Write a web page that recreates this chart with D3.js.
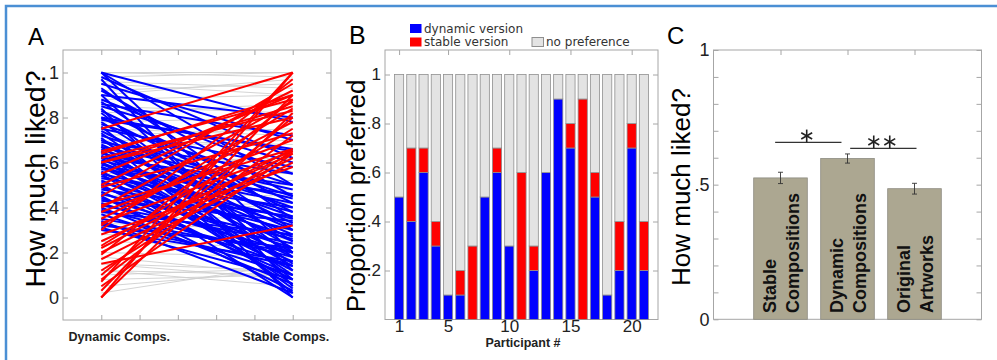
<!DOCTYPE html>
<html>
<head>
<meta charset="utf-8">
<script src="https://cdn.jsdelivr.net/npm/d3@7"></script>
<style>
  body { margin: 0; background: #fff; }
  text { font-family: "Liberation Sans", Arial, sans-serif; }
</style>
</head>
<body>
<svg id="chart" width="997" height="360"></svg>
<script>
// ---- panel A: liking ratings, [dynamic, stable] per composition pair
var grayPairs = [[1,1],[1,0.98],[0.98,1],[0.96,0.93],[0.92,0.95],[0.88,0.9],[0.85,0.82],[0.82,0.86],
  [0.78,0.8],[0.75,0.72],[0.72,0.75],[0.7,0.68],[0.66,0.7],[0.63,0.6],[0.6,0.62],[0.57,0.55],
  [0.55,0.58],[0.52,0.5],[0.5,0.52],[0.47,0.45],[0.45,0.48],[0.42,0.4],[0.4,0.42],[0.36,0.35],
  [0.33,0.3],[0.28,0.26],[0.25,0.22],[0.2,0.18],[0.15,0.12],[0.12,0.1],[0.1,0.13],[0.08,0.1],
  [0.05,0.12],[0.02,0.15],[0.12,0.05],[0.15,0.08],[0.18,0.1],[0.9,0.97],[0.95,0.9],[0.62,0.56]];
var bluePairs = [[1,0.78],[1,0.5],[1,0.2],[0.98,0.62],[0.97,0.05],[0.95,0.7],[0.93,0.35],[0.92,0.45],
  [0.9,0.8],[0.9,0.12],[0.88,0.55],[0.87,0.3],[0.85,0.6],[0.84,0],[0.83,0.42],[0.82,0.18],
  [0.8,0.65],[0.8,0.38],[0.78,0.25],[0.77,0.5],[0.76,0.08],[0.75,0.58],[0.74,0.33],[0.73,0.15],
  [0.72,0.45],[0.71,0.02],[0.7,0.4],[0.7,0.22],[0.69,0.55],[0.68,0.3],[0.67,0.1],[0.67,0.48],
  [0.66,0.36],[0.65,0.2],[0.65,0.04],[0.64,0.44],[0.63,0.28],[0.62,0.5],[0.62,0.14],[0.61,0.38],
  [0.6,0.25],[0.6,0.06],[0.59,0.42],[0.58,0.32],[0.58,0.18],[0.57,0.46],[0.56,0.12],[0.55,0.35],
  [0.55,0],[0.54,0.27],[0.53,0.4],[0.52,0.16],[0.51,0.3],[0.5,0.08],[0.49,0.22],[0.48,0.36],
  [0.47,0.1],[0.46,0.26],[0.45,0.03],[0.44,0.2],[0.43,0.34],[0.42,0.14],[0.41,0.24],[0.4,0.06],
  [0.39,0.18],[0.38,0.28],[0.37,0.1],[0.35,0.2],[0.34,0.02],[0.33,0.14],[0.32,0.22],[0.31,0.08],
  [0.3,0.16],[0.86,0.72],[0.79,0.66]];
var redPairs = [[0.75,1],[0.65,0.88],[0.64,0.9],[0.62,0.83],[0.6,0.85],[0.6,0.8],[0.5,0.92],[0.49,0.73],
  [0.4,0.87],[0.38,0.7],[0.35,0.78],[0.33,0.65],[0.3,0.97],[0.25,0.64],[0.23,0.75],[0.22,0.66],
  [0.2,0.62],[0.19,0.88],[0.17,0.6],[0.15,0.32],[0.12,0.65],[0.1,0.8],[0.08,0.72],[0.07,1],
  [0.05,0.64],[0.03,0.9],[0,1],[0,0.82],[0.45,0.95],[0.28,0.58],[0.41,0.66],[0.55,0.9],[0.32,0.84]];
var conditionsA = ["Dynamic Comps.", "Stable Comps."];

// ---- panel B: proportion preferred per participant
var participants = [1,2,3,4,5,6,7,8,9,10,11,12,13,14,15,16,17,18,19,20,21];
var propDynamic = [0.5,0.4,0.6,0.3,0.1,0.1,0,0.5,0.6,0.3,0,0.2,0.6,0.9,0.7,0,0.5,0.1,0.2,0.7,0.2];
var propStable  = [0,0.3,0.1,0.1,0,0.1,0.3,0,0.1,0,0.6,0.1,0,0,0.1,0.9,0.1,0,0.2,0.1,0.2];
var legendB = [["dynamic version","#0000ff"],["stable version","#ff0000"],["no preference","#e3e3e3"]];

// ---- panel C: mean liking per stimulus type
var groupsC = [["Stable","Compositions"],["Dynamic","Compositions"],["Original","Artworks"]];
var meansC = [0.525, 0.597, 0.485];
var semC = [0.021, 0.017, 0.02];
var sigC = [[1,2,0.657,"*"],[2,3,0.635,"**"]];

var svg = d3.select("#chart");
var axisGray = "#a6a6a6";

// outer frame (left + top edges visible)
svg.append("path").attr("d","M6,360V6H997").attr("fill","none")
  .attr("stroke","#4b8fd4").attr("stroke-width",2.5);

function decimal(d) {
  if (d === 0) return "0";
  if (d === 1) return "1";
  return d3.format(".1f")(d).replace(/^0/, "");
}

function boxAxes(g, x, y, xt, yt, yFmt, xFmt, fs) {
  var xr = x.range(), yr = y.range();
  g.append("rect").attr("x",xr[0]).attr("y",yr[1]).attr("width",xr[1]-xr[0]).attr("height",yr[0]-yr[1])
    .attr("fill","none").attr("stroke",axisGray);
  var parts = [
    g.append("g").attr("transform","translate("+xr[0]+",0)")
      .call(d3.axisLeft(y).tickValues(yt).tickSize(-5).tickPadding(4).tickFormat(yFmt)),
    g.append("g").attr("transform","translate("+xr[1]+",0)")
      .call(d3.axisRight(y).tickValues(yt).tickSize(-5).tickFormat("")),
    g.append("g").attr("transform","translate(0,"+yr[1]+")")
      .call(d3.axisTop(x).tickValues(xt).tickSize(-5).tickFormat("")),
    g.append("g").attr("transform","translate(0,"+yr[0]+")")
      .call(d3.axisBottom(x).tickValues(xt).tickSize(-5).tickPadding(0.5).tickFormat(xFmt || ""))
  ];
  parts.forEach(function(p) {
    p.select(".domain").remove();
    p.selectAll(".tick line").attr("stroke",axisGray);
    p.selectAll("text").attr("fill","#222").style("font-size",fs+"px")
      .style("font-family",'"Liberation Sans", Arial, sans-serif');
  });
}

// ================= A
var gA = svg.append("g");
var ax = d3.scaleLinear().domain([0.8,2.2]).range([63,331]);
var ay = d3.scaleLinear().domain([-0.1,1.1]).range([320,50]);

boxAxes(gA, ax, ay, [1,1.2,1.4,1.6,1.8,2], [0,0.2,0.4,0.6,0.8,1], decimal, null, 18);

function pairLines(data, color, w) {
  gA.append("g").selectAll("line").data(data).join("line")
    .attr("x1",ax(1)).attr("x2",ax(2))
    .attr("y1",function(d){return ay(d[0]);}).attr("y2",function(d){return ay(d[1]);})
    .attr("stroke",color).attr("stroke-width",w);
}
pairLines(grayPairs, "#cfcfcf", 0.9);
pairLines(bluePairs, "#0000ff", 2);
pairLines(redPairs, "#ff0000", 2);

gA.selectAll("text.cond").data(conditionsA).join("text").attr("class","cond")
  .attr("x",function(d,i){return ax(i+1) + (i === 0 ? 18 : -7);})
  .attr("y",341).attr("text-anchor","middle")
  .style("font-size","12.5px").style("font-weight","bold").attr("fill","#222")
  .text(function(d){return d;});

gA.append("text").attr("transform","translate(45,179) rotate(-90)").attr("text-anchor","middle")
  .style("font-size","28.5px").text("How much liked?");
gA.append("text").attr("x",28).attr("y",45).style("font-size","24px").text("A");

// ================= B
var gB = svg.append("g");
var bx = d3.scaleLinear().domain([-0.15,22.15]).range([385,658]);
var by = d3.scaleLinear().domain([0,1.1]).range([319.5,50]);

boxAxes(gB, bx, by, [1,5,10,15,20], [0.2,0.4,0.6,0.8,1], decimal, function(d){return d;}, 17);

var bw = bx(0.75) - bx(0);
var stacks = participants.map(function(p,i){
  var d = propDynamic[i], s = propStable[i];
  return [[p,0,d,"#0000ff"],[p,d,d+s,"#ff0000"],[p,d+s,1,"#e3e3e3"]];
});
gB.append("g").selectAll("g").data(stacks).join("g")
  .selectAll("rect").data(function(d){return d.filter(function(s){return s[2] > s[1];});}).join("rect")
  .attr("x",function(s){return bx(s[0]) - bw/2;}).attr("width",bw)
  .attr("y",function(s){return by(s[2]);}).attr("height",function(s){return by(s[1]) - by(s[2]);})
  .attr("fill",function(s){return s[3];}).attr("stroke","#8f8f8f").attr("stroke-width",0.8);

var legPos = [[410,24],[410,37.5],[532,37.5]];
var leg = gB.selectAll("g.leg").data(legendB).join("g").attr("class","leg")
  .attr("transform",function(d,i){return "translate("+legPos[i][0]+","+legPos[i][1]+")";});
leg.append("rect").attr("width",11.5).attr("height",9)
  .attr("fill",function(d){return d[1];}).attr("stroke",function(d,i){return i===2?"#8f8f8f":"none";});
leg.append("text").attr("x",14).attr("y",8.5).text(function(d){return d[0];})
  .style("font-family","'DejaVu Sans', sans-serif")
  .style("font-size","12px").attr("fill","#333");

gB.append("text").attr("x",523).attr("y",347).attr("text-anchor","middle")
  .style("font-size","12.5px").style("font-weight","bold").attr("fill","#222").text("Participant #");
gB.append("text").attr("transform","translate(365,196) rotate(-90)").attr("text-anchor","middle")
  .style("font-size","26px").text("Proportion preferred");
gB.append("text").attr("x",349).attr("y",43.5).style("font-size","25px").text("B");

// ================= C
var gC = svg.append("g");
var cx = d3.scaleLinear().domain([0,4]).range([713.5,981.5]);
var cy = d3.scaleLinear().domain([0,1]).range([319.3,50]);

boxAxes(gC, cx, cy, [1,2,3], [0,0.1,0.2,0.3,0.4,0.5,0.6,0.7,0.8,0.9,1],
  function(d){ return d === 0 ? "0" : d === 0.5 ? ".5" : d === 1 ? "1" : ""; }, null, 18);

var cw = cx(0.8) - cx(0);
gC.append("g").selectAll("rect").data(meansC).join("rect")
  .attr("x",function(d,i){return cx(i+1) - cw/2;}).attr("width",cw)
  .attr("y",function(d){return cy(d);}).attr("height",function(d){return cy(0) - cy(d);})
  .attr("fill","#aca791").attr("stroke","#8c8a80").attr("stroke-width",0.8);

var eb = gC.append("g").attr("stroke","#333").attr("stroke-width",0.9);
meansC.forEach(function(m,i){
  var x = cx(i+1), lo = cy(m - semC[i]), hi = cy(m + semC[i]);
  eb.append("line").attr("x1",x).attr("x2",x).attr("y1",lo).attr("y2",hi);
  eb.append("line").attr("x1",x-2.5).attr("x2",x+2.5).attr("y1",lo).attr("y2",lo);
  eb.append("line").attr("x1",x-2.5).attr("x2",x+2.5).attr("y1",hi).attr("y2",hi);
});

groupsC.forEach(function(lines,i){
  lines.forEach(function(t,j){
    gC.append("text").attr("transform","translate("+(cx(i+1) + (j === 0 ? -5 : 18))+",313) rotate(-90)")
      .style("font-size","18px").style("font-weight","bold").attr("fill","#111").text(t);
  });
});

// significance brackets
function asterisk(g, x, y, r) {
  [90, 30, -30].forEach(function(a){
    var t = a * Math.PI / 180;
    g.append("line").attr("x1",x - r*Math.cos(t)).attr("x2",x + r*Math.cos(t))
      .attr("y1",y - r*Math.sin(t)).attr("y2",y + r*Math.sin(t))
      .attr("stroke","#222").attr("stroke-width",1.6);
  });
}
var sigShift = [-0.085, 0.035];
sigC.forEach(function(s,k0){
  var xm = (s[0] + s[1]) / 2 + sigShift[k0];
  var x1 = cx(xm - 0.495), x2 = cx(xm + 0.495), yv = cy(s[2]);
  gC.append("line").attr("x1",x1).attr("x2",x2).attr("y1",yv).attr("y2",yv)
    .attr("stroke","#333").attr("stroke-width",1.2);
  var n = s[3].length, mid = (x1 + x2) / 2 - 1.6;
  for (var k = 0; k < n; k++) {
    asterisk(gC, mid + (k - (n-1)/2) * 16, yv - 6.5, 6.3);
  }
});

gC.append("text").attr("transform","translate(690,187) rotate(-90)").attr("text-anchor","middle")
  .style("font-size","26px").text("How much liked?");
gC.append("text").attr("x",667).attr("y",43.5).style("font-size","24px").text("C");
</script>
</body>
</html>
